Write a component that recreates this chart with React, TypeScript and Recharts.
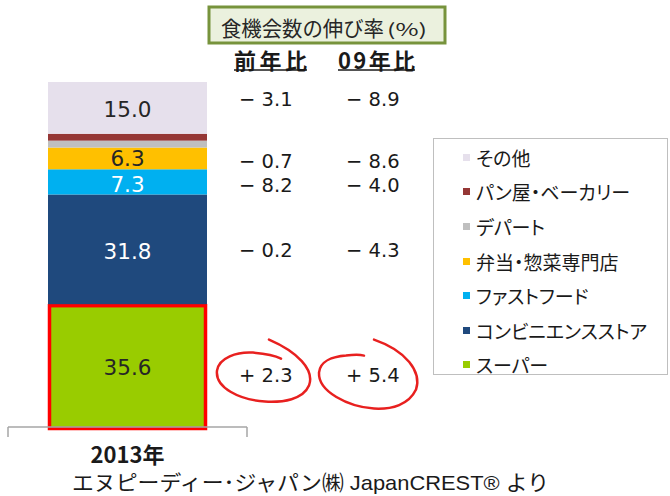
import React from 'react';
import { BarChart, Bar, XAxis, YAxis, Legend } from 'recharts';

// ─── Data ────────────────────────────────────────────────────────────────────

const years = ['2013年'];
// stack order: bottom → top
const seriesKeys = ['super', 'cvs', 'fastfood', 'bento', 'dept', 'bakery', 'other'];
const seriesNames = [
  'スーパー',
  'コンビニエンスストア',
  'ファストフード',
  '弁当・惣菜専門店',
  'デパート',
  'パン屋・ベーカリー',
  'その他',
];
const shares2013 = [35.6, 31.8, 7.3, 6.3, 2.0, 2.0, 15.0];
const growthVsPrevYear = [2.3, -0.2, -8.2, -0.7, null, null, -3.1];
const growthVs2009 = [5.4, -4.3, -4.0, -8.6, null, null, -8.9];

const data = years.map((year) => {
  const row: any = { year };
  seriesKeys.forEach((k, i) => (row[k] = shares2013[i]));
  return row;
});

// ─── Styles ──────────────────────────────────────────────────────────────────

const COLORS = ['#99cc00', '#1f497d', '#00b0f0', '#ffc000', '#bfbfbf', '#953735', '#e6e0ec'];
const LABEL_COLORS = ['#262626', '#ffffff', '#ffffff', '#262626', '#262626', '#262626', '#262626'];
const LABEL_NUDGE = [2, 2, 2.5, 0, 0, 0, 2];
const GROWTH_NUDGE = [10, 1, 4, 3, 0, 0, -8];
const AXIS_COLOR = '#a6a6a6';
const NUM_FONT = '"DejaVu Sans", "Noto Sans CJK JP", sans-serif';
const JP_FONT = '"Noto Sans CJK JP", sans-serif';

const fmtGrowth = (v: number) => (v < 0 ? `− ${Math.abs(v).toFixed(1)}` : `+ ${v.toFixed(1)}`);

const makeShape = (si: number) => (props: any) => {
  const { x, y, width, height } = props;
  const highlight = si === 0;
  const cy = y + height / 2;
  const col1 = x + width + 32;
  const col2 = x + width + 139;
  const gy = cy + GROWTH_NUDGE[si];
  const g1 = growthVsPrevYear[si];
  const g2 = growthVs2009[si];
  return (
    <g>
      <rect x={x} y={y} width={width} height={height} fill={COLORS[si]} />
      {highlight && (
        <rect
          x={x + 1.5}
          y={y + 1.5}
          width={width - 3}
          height={height}
          fill="none"
          stroke="#ff0000"
          strokeWidth={3.5}
        />
      )}
      {height > 14 && (
        <text
          x={x + width / 2}
          y={cy + LABEL_NUDGE[si]}
          textAnchor="middle"
          dominantBaseline="central"
          fontSize={21.5}
          fontFamily={NUM_FONT}
          fill={LABEL_COLORS[si]}
        >
          {shares2013[si].toFixed(1)}
        </text>
      )}
      {g1 != null && (
        <text x={col1} y={gy} dominantBaseline="central" fontSize={19.5} fontFamily={NUM_FONT} fill="#1a1a1a">
          {fmtGrowth(g1)}
        </text>
      )}
      {g2 != null && (
        <text x={col2} y={gy} dominantBaseline="central" fontSize={19.5} fontFamily={NUM_FONT} fill="#1a1a1a">
          {fmtGrowth(g2)}
        </text>
      )}
      {highlight && (
        <g fill="none" stroke="#e8201f" strokeWidth={2.5} strokeLinecap="round">
          <path
            transform={`translate(${col1 - 2},${gy})`}
            d="M 32 -36 C 60 -24 78 -6 72 10 C 66 24 46 27 28 26 C 2 24 -22 12 -20 -5 C -18 -18 0 -24 16 -23 C 28 -22 38 -20 44 -17"
          />
          <path
            transform={`translate(${col2 - 2},${gy})`}
            d="M 30 -36 C 62 -25 78 -4 72 14 C 65 29 48 34 30 33 C 4 31 -26 16 -25 -3 C -24 -14 -12 -19 2 -20 C 10 -21 16 -21 20 -20"
          />
        </g>
      )}
    </g>
  );
};

// category label plus Excel-style boundary tick marks on either side of the band
const CategoryTick = (props: any) => {
  const { x, y, payload } = props;
  const axisWidth = Number(props.width) || 239;
  const half = axisWidth / years.length / 2;
  return (
    <g>
      <line x1={x - half} x2={x - half} y1={y} y2={y + 10} stroke={AXIS_COLOR} strokeWidth={1.5} />
      <line x1={x + half} x2={x + half} y1={y} y2={y + 10} stroke={AXIS_COLOR} strokeWidth={1.5} />
      <text x={x} y={y + 26} textAnchor="middle" dominantBaseline="central" fontSize={22} fontWeight="bold" fontFamily={JP_FONT} fill="#1a1a1a">
        {payload.value}
      </text>
    </g>
  );
};

const LegendBox = () => {
  const order = seriesNames.map((_, i) => i).reverse();
  return (
    <div
      style={{
        boxSizing: 'border-box',
        width: 235,
        height: 237,
        border: '1px solid #bfbfbf',
        background: '#fff',
        paddingTop: 1,
        paddingLeft: 29,
      }}
    >
      {order.map((i) => (
        <div key={i} style={{ height: 34.6, display: 'flex', alignItems: 'center' }}>
          <span style={{ width: 7, height: 7, background: COLORS[i], display: 'inline-block', flexShrink: 0 }} />
          <span
            style={{
              marginLeft: 6,
              fontSize: 19,
              fontFamily: JP_FONT,
              fontFeatureSettings: '"palt"',
              color: '#1a1a1a',
              whiteSpace: 'nowrap',
            }}
          >
            {seriesNames[i]}
          </span>
        </div>
      ))}
    </div>
  );
};

export default function App() {
  return (
    <div style={{ position: 'absolute', left: 0, top: 0, width: 670, height: 496, background: '#fff', overflow: 'hidden' }}>
      <BarChart width={670} height={496} data={data} margin={{ top: 82, right: 423, left: 8, bottom: 39 }}>
        <XAxis
          dataKey="year"
          axisLine={{ stroke: AXIS_COLOR, strokeWidth: 1.5 }}
          tickLine={false}
          tickSize={0}
          tickMargin={0}
          height={30}
          tick={<CategoryTick />}
        />
        <YAxis hide domain={[0, 100]} />
        <Legend
          layout="vertical"
          align="center"
          verticalAlign="middle"
          content={<LegendBox />}
          wrapperStyle={{ position: 'absolute', left: 433, top: 138, width: 235, height: 237 }}
        />
        {seriesKeys.map((k, i) => (
          <Bar
            key={k}
            dataKey={k}
            name={seriesNames[i]}
            stackId="share"
            fill={COLORS[i]}
            barSize={159}
            shape={makeShape(i)}
            isAnimationActive={false}
          />
        ))}
      </BarChart>
      <svg width={670} height={496} style={{ position: 'absolute', left: 0, top: 0, pointerEvents: 'none' }}>
        <rect x={209} y={7} width={236} height={36} fill="#ebf1de" stroke="#77933c" strokeWidth={3} />
        <text x={221} y={27} dominantBaseline="central" fontSize={21} textLength={163} lengthAdjust="spacingAndGlyphs" fontFamily={JP_FONT} fill="#262626">
          食機会数の伸び率
        </text>
        <text x={387} y={28} dominantBaseline="central" fontSize={17} textLength={40} lengthAdjust="spacingAndGlyphs" fontFamily={JP_FONT} fill="#262626">
          (%)
        </text>
        <text x={234} y={59} dominantBaseline="central" fontSize={22} fontWeight="bold" textLength={73} fontFamily={JP_FONT} fill="#1a1a1a">
          前年比
        </text>
        <line x1={234} x2={307} y1={70} y2={70} stroke="#1a1a1a" strokeWidth={1.5} />
        <text x={338} y={59} dominantBaseline="central" fontSize={22} fontWeight="bold" textLength={77} fontFamily={JP_FONT} fill="#1a1a1a">
          09年比
        </text>
        <line x1={338} x2={415} y1={70} y2={70} stroke="#1a1a1a" strokeWidth={1.5} />
        <text x={72} y={482} dominantBaseline="central" fontSize={21} textLength={477} lengthAdjust="spacingAndGlyphs" fontFamily={'"Liberation Sans", "Noto Sans CJK JP", sans-serif'} fill="#1a1a1a">
          エヌピーディー･ジャパン㈱ JapanCREST® より
        </text>
      </svg>
    </div>
  );
}
